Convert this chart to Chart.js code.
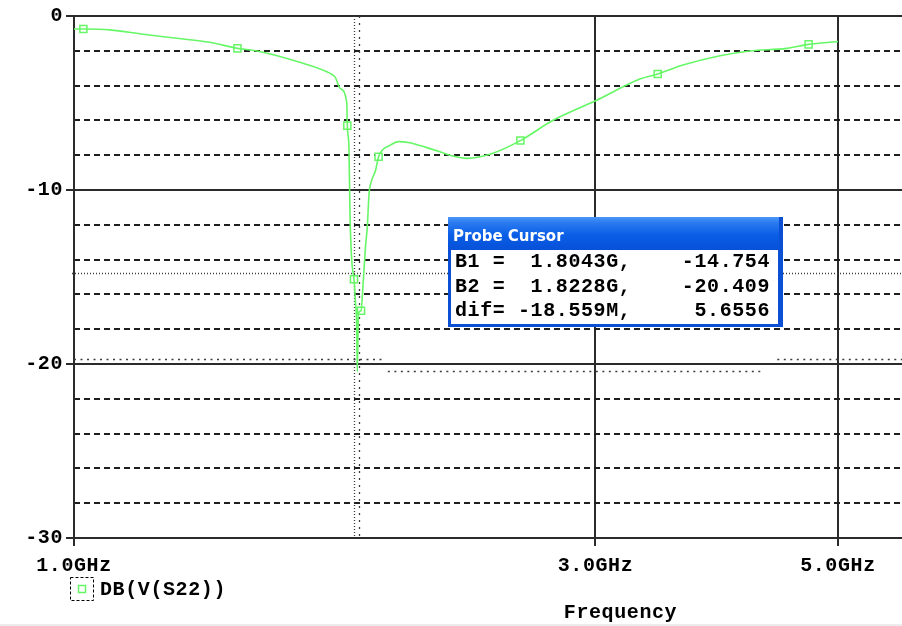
<!DOCTYPE html>
<html><head><meta charset="utf-8">
<script src="https://cdn.jsdelivr.net/npm/chart.js@4/dist/chart.umd.min.js"></script>
<style>
html,body{margin:0;padding:0;background:#fff;overflow:hidden}
#wrap{position:relative;width:902px;height:626px}
canvas{display:block}
#edge{position:absolute;left:0;bottom:0;width:902px;height:2px;background:#ececec}
</style></head><body>
<div id="wrap"><canvas id="c" width="902" height="626"></canvas><div id="edge"></div></div>
<script>
// ---- data ----
const freqGHz = [1.000,1.020,1.079,1.157,1.242,1.331,1.411,1.470,1.620,1.715,1.733,1.752,
  1.7764,1.7785,1.7848,1.7885,1.7950,1.8037,1.8087,1.8141,1.8164,1.8206,1.8307,
  1.838,1.848,1.855,1.862,1.8685,1.888,1.8996,1.915,1.948,1.981,2.028,2.100,2.162,
  2.222,2.289,2.401,2.561,2.746,2.996,3.294,3.420,3.607,3.890,4.150,4.490,4.700,4.980,5.000];
const s22dB = [-0.75,-0.75,-0.80,-1.05,-1.28,-1.51,-1.86,-2.01,-2.72,-3.30,-3.50,-4.16,
  -4.98,-6.30,-7.70,-11.34,-14.02,-15.13,-16.32,-17.86,-20.44,-17.09,-16.94,
  -15.56,-13.26,-12.11,-10.19,-9.62,-8.85,-8.09,-7.70,-7.41,-7.22,-7.28,-7.55,-7.80,
  -8.05,-8.18,-7.95,-7.16,-5.98,-4.89,-3.62,-3.33,-2.82,-2.30,-2.01,-1.86,-1.63,-1.48,-1.47];
const markerFreqGHz = [1.020,1.411,1.7785,1.8037,1.8307,1.8996,2.561,3.420,4.700];
const markerDb      = [-0.75,-1.86,-6.30,-15.13,-16.94,-8.09,-7.16,-3.33,-1.63];
const xTickGHz = [1, 3, 5];
const xRangeGHz = [1, 5.722];
const yTickDb = [0, -10, -20, -30];
const yMinorDb = [-2,-4,-6,-8,-12,-14,-16,-18,-22,-24,-26,-28];
const cursorFreqGHz = [1.8043, 1.8228];
const cursorB1Db = -14.754;
const cursorB2Db = [-19.71, -20.409];
const cursorB2SpansGHz = [[[1, 1.925], [4.40, 5.722]], [[1.937, 4.245]]];
const probeTitle = 'Probe Cursor';
const probeRows = ['B1 =  1.8043G,    -14.754', 'B2 =  1.8228G,    -20.409', 'dif= -18.559M,     5.6556'];
const traceName = 'DB(V(S22))';
const xTitle = 'Frequency';

// ---- styling ----
const GREEN = '#66f766';
const DARK = '#2b2b2b';
const FONT = {family: '"Liberation Mono", "DejaVu Sans Mono", monospace', size: 20, weight: 'bold'};
const LS = '0.6px';
Chart.defaults.font = FONT;
Chart.defaults.color = '#000';

const overlay = {
  id: 'overlay',
  beforeUpdate(chart){ chart.ctx.letterSpacing = LS; },
  beforeDraw(chart){
    const c = chart.ctx; c.save(); c.fillStyle = '#fff'; c.fillRect(0,0,chart.width,chart.height); c.restore();
    c.letterSpacing = LS;
  },
  beforeDatasetsDraw(chart){
    const {ctx, chartArea: a, scales: {x, y}} = chart;
    ctx.save();
    ctx.strokeStyle = '#3c3c3c';
    cursorFreqGHz.forEach((f, i) => {
      const px = Math.round(x.getPixelForValue(f)) + 0.5;
      ctx.lineWidth = 1.3;
      ctx.setLineDash(i === 0 ? [1, 2] : [2, 5]);
      ctx.beginPath(); ctx.moveTo(px, a.top); ctx.lineTo(px, a.bottom); ctx.stroke();
    });
    let py = Math.round(y.getPixelForValue(cursorB1Db)) + 0.5;
    ctx.lineWidth = 1.3; ctx.setLineDash([1, 2]);
    ctx.beginPath(); ctx.moveTo(a.left - 2, py); ctx.lineTo(a.right, py); ctx.stroke();
    ctx.lineWidth = 1.6; ctx.setLineDash([2, 4.5]);
    cursorB2Db.forEach((v, i) => {
      const yy = Math.round(y.getPixelForValue(v)) + 0.5;
      cursorB2SpansGHz[i].forEach(([f0, f1]) => {
        ctx.beginPath(); ctx.moveTo(x.getPixelForValue(f0), yy); ctx.lineTo(x.getPixelForValue(f1), yy); ctx.stroke();
      });
    });
    ctx.restore();
  },
  afterDraw(chart){
    const {ctx, scales: {x}} = chart;
    ctx.save();
    ctx.letterSpacing = LS;
    ctx.strokeStyle = '#000'; ctx.lineWidth = 1; ctx.setLineDash([3, 2]);
    ctx.strokeRect(70.5, 577.5, 23, 23);
    ctx.setLineDash([]);
    ctx.strokeStyle = GREEN; ctx.lineWidth = 1.5; ctx.fillStyle = '#fff';
    ctx.fillRect(78.5, 585.5, 7, 7); ctx.strokeRect(78.5, 585.5, 7, 7);
    ctx.fillStyle = '#000';
    ctx.font = `bold ${FONT.size}px ${FONT.family}`;
    ctx.textBaseline = 'middle'; ctx.textAlign = 'left';
    ctx.fillText(chart.data.datasets[0].label, 100, 590);
    ctx.textAlign = 'center';
    ctx.fillText(xTitle, x.getPixelForValue(Math.sqrt(10)), 613);
    const bx = 448, by = 217, bw = 335, bh = 110;
    const g = ctx.createLinearGradient(0, by, 0, by + 33);
    g.addColorStop(0, '#4a95f8'); g.addColorStop(0.18, '#2a7af0');
    g.addColorStop(0.55, '#0a5ee6'); g.addColorStop(1, '#0850d8');
    ctx.fillStyle = '#0a4fd4'; ctx.fillRect(bx, by, bw, bh);
    ctx.fillStyle = g; ctx.fillRect(bx, by, bw - 4, 33);
    ctx.fillStyle = '#fff'; ctx.fillRect(bx + 3, by + 33, bw - 8, bh - 36);
    ctx.letterSpacing = '0px';
    ctx.fillStyle = '#fff'; ctx.textAlign = 'left'; ctx.textBaseline = 'alphabetic';
    ctx.font = 'bold 15px "DejaVu Sans", sans-serif';
    ctx.fillText(probeTitle, bx + 5, by + 24);
    ctx.letterSpacing = LS;
    ctx.fillStyle = '#000'; ctx.textBaseline = 'middle';
    ctx.font = `bold ${FONT.size}px ${FONT.family}`;
    probeRows.forEach((r, i) => ctx.fillText(r, bx + 7, 262 + i * 24.5));
    ctx.restore();
  }
};

new Chart(document.getElementById('c'), {
  type: 'line',
  data: {
    datasets: [
      { label: traceName, data: freqGHz.map((f, i) => ({x: f, y: s22dB[i]})),
        borderColor: GREEN, borderWidth: 1.6, pointRadius: 0, cubicInterpolationMode: 'monotone', fill: false },
      { label: 'markers', data: markerFreqGHz.map((f, i) => ({x: f, y: markerDb[i]})),
        showLine: false, pointStyle: 'rect', pointRadius: 5, pointHoverRadius: 5, pointBorderWidth: 1.5,
        pointBorderColor: GREEN, pointBackgroundColor: '#fff' }
    ]
  },
  options: {
    responsive: false, animation: false, devicePixelRatio: 1,
    layout: { autoPadding: false, padding: { top: 16, right: 0, left: 0, bottom: 0 } },
    plugins: { legend: { display: false }, tooltip: { enabled: false } },
    scales: {
      x: {
        type: 'logarithmic', position: 'bottom', min: xRangeGHz[0], max: xRangeGHz[1],
        afterBuildTicks: s => { s.ticks = xTickGHz.map(v => ({value: v})); },
        afterFit: s => { s.height = 88; s.paddingRight = 0; s.paddingLeft = 0; },
        ticks: { callback: v => Number(v).toFixed(1) + 'GHz', maxRotation: 0, autoSkip: false, padding: 8, color: '#000' },
        grid: { color: DARK, lineWidth: 2, tickLength: 8, drawTicks: true },
        border: { color: DARK, width: 2 }
      },
      y: {
        position: 'left', min: -30, max: 0,
        afterBuildTicks: s => { s.ticks = yTickDb.map(v => ({value: v})); },
        afterFit: s => { s.width = 74; s.paddingTop = 0; s.paddingBottom = 0; },
        ticks: { callback: v => String(v), padding: 3, color: '#000' },
        grid: { color: DARK, lineWidth: 2, tickLength: 8 },
        border: { color: DARK, width: 2 }
      },
      y2: {
        position: 'left', min: -30, max: 0,
        afterBuildTicks: s => { s.ticks = yMinorDb.map(v => ({value: v})); },
        afterFit: s => { s.width = 0; },
        ticks: { display: false },
        grid: { color: '#1e1e1e', lineWidth: 2, drawTicks: false },
        border: { display: false, dash: [6, 4] }
      }
    }
  },
  plugins: [overlay]
});
</script>
</body></html>
